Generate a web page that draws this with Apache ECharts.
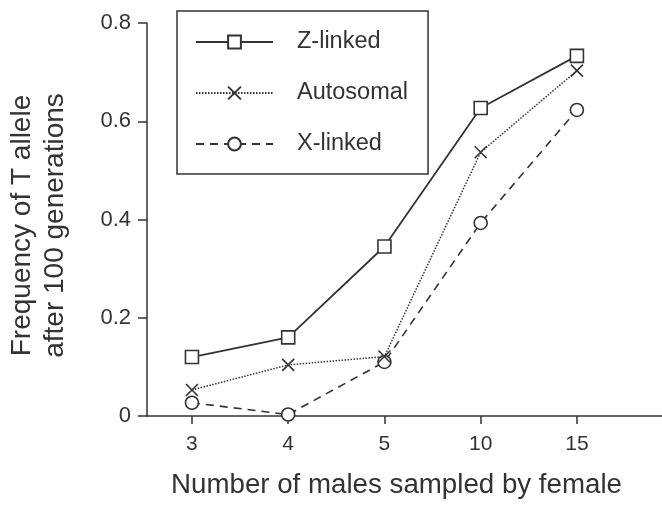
<!DOCTYPE html>
<html>
<head>
<meta charset="utf-8">
<script src="https://cdn.jsdelivr.net/npm/echarts@6/dist/echarts.min.js"></script>
<style>
html,body{margin:0;padding:0;background:#fff;}
#chart{width:662px;height:508px;}
</style>
</head>
<body>
<div id="chart"></div>
<script>
var categories = ['3', '4', '5', '10', '15'];
var zLinked = [0.12, 0.16, 0.345, 0.627, 0.733];
var autosomal = [0.053, 0.104, 0.121, 0.537, 0.703];
var xLinked = [0.027, 0.003, 0.11, 0.393, 0.623];
var yTicks = [0, 0.2, 0.4, 0.6, 0.8];

var INK = '#333333';
var FONT = '"Liberation Sans", Arial, Helvetica, sans-serif';

// categories are placed at positions 1..5 on an ordinal value scale
function pairs(vals) {
  return vals.map(function (v, i) { return [i + 1, v]; });
}
var tickPositions = categories.map(function (c, i) { return i + 1; });

var chart = echarts.init(document.getElementById('chart'), null, { renderer: 'canvas' });
chart.setOption({
  backgroundColor: '#ffffff',
  animation: false,
  textStyle: { fontFamily: FONT, color: INK },
  grid: { left: 147, right: 0, top: 23, bottom: 92, containLabel: false, outerBoundsMode: 'none' },
  legend: {
    orient: 'vertical',
    left: 177,
    top: 11,
    padding: [19, 20, 18, 18],
    itemWidth: 77,
    itemHeight: 16,
    itemGap: 27,
    borderColor: INK,
    borderWidth: 1.5,
    textStyle: { fontSize: 23.5, color: INK, fontFamily: FONT, padding: [0, 0, 0, 19], lineHeight: 22 },
    data: ['Z-linked', 'Autosomal', 'X-linked']
  },
  xAxis: {
    type: 'value',
    min: 0.533,
    max: 5.884,
    name: 'Number of males sampled by female',
    nameLocation: 'middle',
    nameGap: 55,
    nameTextStyle: { fontSize: 27.7, color: INK, fontFamily: FONT, padding: [0, 16, 0, 0] },
    splitLine: { show: false },
    axisLine: { show: true, lineStyle: { color: INK, width: 1.5 } },
    axisTick: { show: true, customValues: tickPositions, length: 8, lineStyle: { color: INK, width: 1.5 } },
    axisLabel: {
      customValues: tickPositions,
      fontSize: 21,
      color: INK,
      fontFamily: FONT,
      margin: 18,
      formatter: function (v) { return categories[Math.round(v) - 1]; }
    }
  },
  yAxis: {
    type: 'value',
    min: 0,
    max: 0.8,
    interval: 0.2,
    name: 'Frequency of T allele\nafter 100 generations',
    nameLocation: 'middle',
    nameGap: 75,
    nameTextStyle: { fontSize: 28, color: INK, fontFamily: FONT, lineHeight: 33, padding: [0, 12, 0, 0] },
    splitLine: { show: false },
    axisLine: { show: true, lineStyle: { color: INK, width: 1.5 } },
    axisTick: { show: true, length: 9, lineStyle: { color: INK, width: 1.5 } },
    axisLabel: {
      fontSize: 22,
      color: INK,
      fontFamily: FONT,
      margin: 16,
      formatter: function (v) {
        var t = yTicks.find(function (y) { return Math.abs(y - v) < 1e-9; });
        return t === 0 ? '0' : String(t);
      }
    }
  },
  series: [
    {
      name: 'Z-linked',
      type: 'line',
      data: pairs(zLinked),
      symbol: 'rect',
      symbolSize: 13,
      lineStyle: { color: INK, width: 1.8, type: 'solid' },
      itemStyle: { color: '#ffffff', borderColor: INK, borderWidth: 1.6 },
      z: 3
    },
    {
      name: 'Autosomal',
      type: 'line',
      data: pairs(autosomal),
      symbol: 'path://M0,0L10,10M10,0L0,10',
      symbolSize: 12,
      lineStyle: { color: INK, width: 1.5, type: [1.5, 1.5] },
      itemStyle: { color: 'none', borderColor: INK, borderWidth: 1.6 },
      z: 2
    },
    {
      name: 'X-linked',
      type: 'line',
      data: pairs(xLinked),
      symbol: 'circle',
      symbolSize: 13,
      lineStyle: { color: INK, width: 1.6, type: [8, 6] },
      itemStyle: { color: '#ffffff', borderColor: INK, borderWidth: 1.6 },
      z: 1
    }
  ]
});
</script>
</body>
</html>
